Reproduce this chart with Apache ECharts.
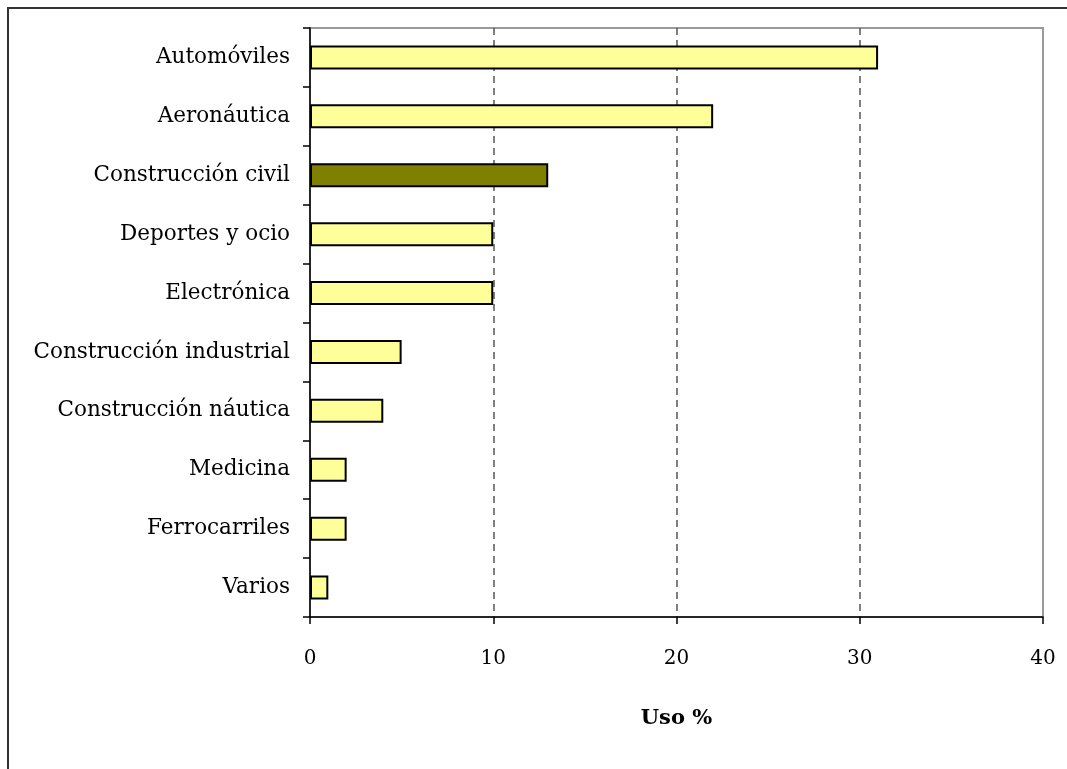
<!DOCTYPE html>
<html>
<head>
<meta charset="utf-8">
<script src="https://cdn.jsdelivr.net/npm/echarts@6/dist/echarts.min.js"></script>
<style>
  html, body { margin: 0; padding: 0; background: #ffffff; }
  #chart { width: 1067px; height: 769px; }
</style>
</head>
<body>
<div id="chart"></div>
<script>
// Sectores de aplicación, de mayor a menor uso
const categories = [
  'Automóviles', 'Aeronáutica', 'Construcción civil', 'Deportes y ocio',
  'Electrónica', 'Construcción industrial', 'Construcción náutica',
  'Medicina', 'Ferrocarriles', 'Varios'
];
const usoPct = [31, 22, 13, 10, 10, 5, 4, 2, 2, 1];
const highlighted = 'Construcción civil';
const xTicks = { min: 0, max: 40, interval: 10 };
const axisTitle = 'Uso %';

const FONT = '"DejaVu Serif", "Liberation Serif", serif';

const chart = echarts.init(document.getElementById('chart'), null, { renderer: 'canvas' });

const barData = usoPct.map((v, i) => ({
  value: v,
  itemStyle: { color: categories[i] === highlighted ? '#808000' : '#FFFF99' }
}));

chart.setOption({
  animation: false,
  backgroundColor: '#ffffff',
  graphic: [{
    type: 'rect',
    shape: { x: 8, y: 8, width: 1100, height: 800 },
    style: { fill: 'none', stroke: '#333333', lineWidth: 2 },
    silent: true
  }],
  grid: {
    left: 310, top: 28, right: 24, bottom: 152,
    show: true, borderColor: '#9a9a9a', borderWidth: 2, backgroundColor: 'transparent'
  },
  xAxis: {
    type: 'value',
    min: xTicks.min, max: xTicks.max, interval: xTicks.interval,
    name: axisTitle,
    nameLocation: 'middle',
    nameGap: 91,
    nameTextStyle: { fontFamily: FONT, fontSize: 21, fontWeight: 'bold', color: '#000' },
    axisLine: { show: true, lineStyle: { color: '#000', width: 1.5 } },
    axisTick: { show: true, length: 7, lineStyle: { color: '#000', width: 1.5 } },
    axisLabel: { margin: 32, fontFamily: FONT, fontSize: 20, color: '#000' },
    splitLine: { show: true, showMinLine: false, showMaxLine: false, lineStyle: { color: '#555', width: 1.5, type: [7, 5] } }
  },
  yAxis: {
    type: 'category',
    data: categories,
    inverse: true,
    axisLine: { show: true, lineStyle: { color: '#000', width: 1.5 } },
    axisTick: { show: true, length: 7, lineStyle: { color: '#000', width: 1.5 } },
    axisLabel: { margin: 20, fontFamily: FONT, fontSize: 21.5, color: '#000' },
    splitLine: { show: false }
  },
  series: [{
    type: 'bar',
    data: barData,
    barWidth: 24,
    itemStyle: { borderColor: '#000', borderWidth: 2 },
    silent: true
  }]
});
</script>
</body>
</html>
